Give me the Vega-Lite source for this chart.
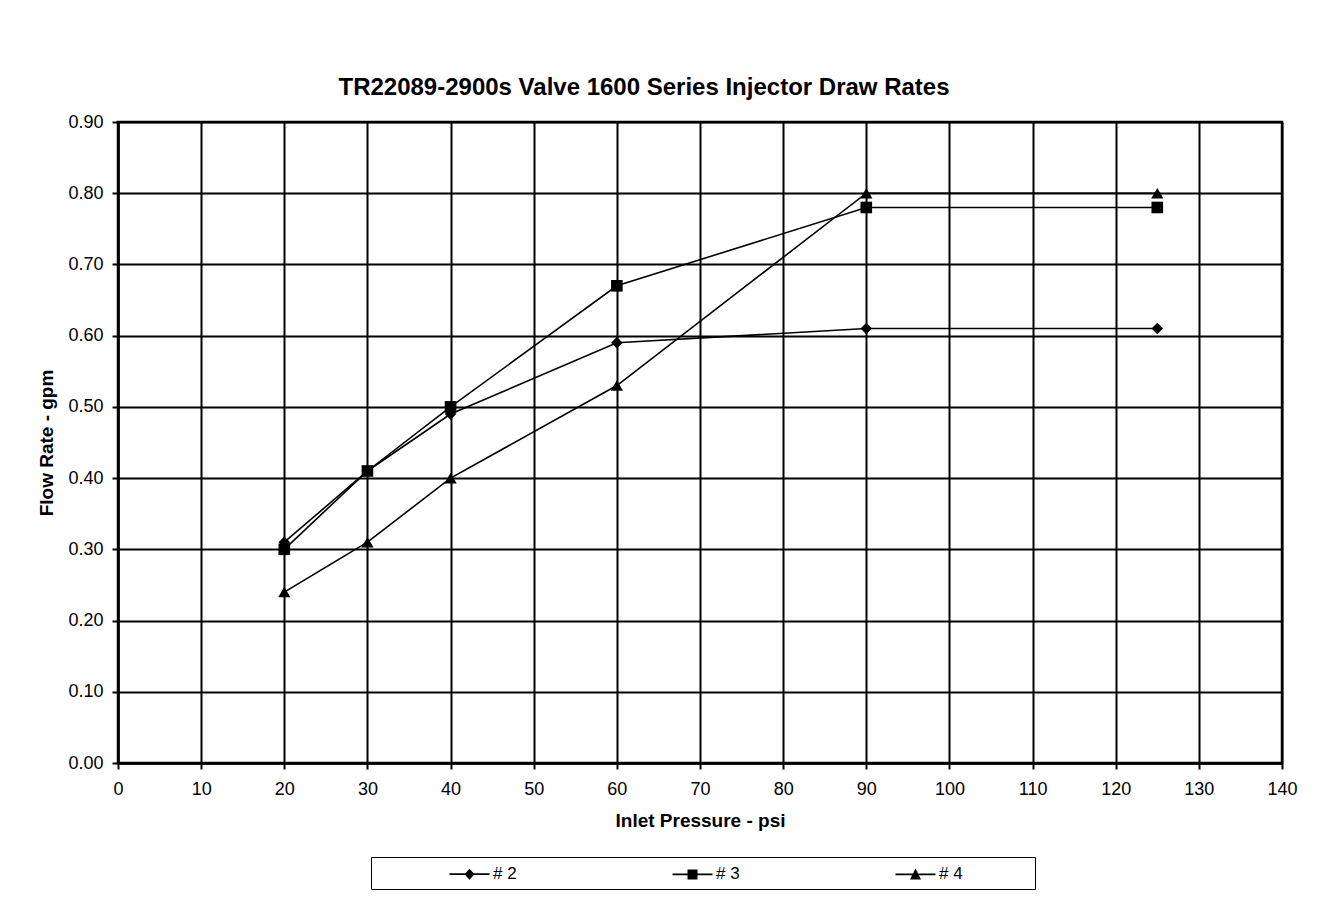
{
  "$schema": "https://vega.github.io/schema/vega-lite/v6.json",
  "width": 1164,
  "height": 641,
  "autosize": "none",
  "padding": {"left": 118, "top": 122, "right": 43, "bottom": 142},
  "background": "white",
  "title": {
    "text": "TR22089-2900s Valve 1600 Series Injector Draw Rates",
    "font": "Liberation Sans",
    "fontSize": 24,
    "fontWeight": "bold",
    "color": "black",
    "anchor": "middle",
    "dx": -56,
    "offset": 13
  },
  "config": {
    "view": {"stroke": "black", "strokeWidth": 2.5},
    "axis": {
      "labelFont": "Liberation Sans",
      "labelFontSize": 18,
      "labelColor": "black",
      "titleFont": "Liberation Sans",
      "titleFontSize": 19,
      "titleFontWeight": "bold",
      "titleColor": "black",
      "domainColor": "black",
      "domainWidth": 2.5,
      "tickColor": "black",
      "tickWidth": 2,
      "tickSize": 6,
      "gridColor": "black",
      "gridWidth": 2,
      "gridOpacity": 1
    }
  },
  "data": {
    "values": [
      {"series": "s2", "pressure": 20, "flow": 0.31},
      {"series": "s2", "pressure": 30, "flow": 0.41},
      {"series": "s2", "pressure": 40, "flow": 0.49},
      {"series": "s2", "pressure": 60, "flow": 0.59},
      {"series": "s2", "pressure": 90, "flow": 0.61},
      {"series": "s2", "pressure": 125, "flow": 0.61},
      {"series": "s3", "pressure": 20, "flow": 0.30},
      {"series": "s3", "pressure": 30, "flow": 0.41},
      {"series": "s3", "pressure": 40, "flow": 0.50},
      {"series": "s3", "pressure": 60, "flow": 0.67},
      {"series": "s3", "pressure": 90, "flow": 0.78},
      {"series": "s3", "pressure": 125, "flow": 0.78},
      {"series": "s4", "pressure": 20, "flow": 0.24},
      {"series": "s4", "pressure": 30, "flow": 0.31},
      {"series": "s4", "pressure": 40, "flow": 0.40},
      {"series": "s4", "pressure": 60, "flow": 0.53},
      {"series": "s4", "pressure": 90, "flow": 0.80},
      {"series": "s4", "pressure": 125, "flow": 0.80}
    ]
  },
  "encoding": {
    "x": {
      "field": "pressure",
      "type": "quantitative",
      "title": "Inlet Pressure - psi",
      "scale": {"domain": [0, 140], "nice": false, "zero": false},
      "axis": {"values": [0,10,20,30,40,50,60,70,80,90,100,110,120,130,140], "labelPadding": 11, "titlePadding": 13, "labelFlush": false}
    },
    "y": {
      "field": "flow",
      "type": "quantitative",
      "title": "Flow Rate - gpm",
      "scale": {"domain": [0, 0.9], "nice": false},
      "axis": {"values": [0,0.1,0.2,0.3,0.4,0.5,0.6,0.7,0.8,0.9], "format": ".2f", "labelPadding": 9, "titlePadding": 11, "labelFlush": false}
    }
  },
  "layer": [
    {
      "mark": {"type": "line", "color": "black", "strokeWidth": 1.6},
      "encoding": {"detail": {"field": "series", "type": "nominal"}}
    },
    {
      "transform": [{"filter": "datum.series == 's2'"}],
      "mark": {"type": "point", "shape": "diamond", "filled": true, "color": "black", "opacity": 1, "size": 135}
    },
    {
      "transform": [{"filter": "datum.series == 's3'"}],
      "mark": {"type": "point", "shape": "square", "filled": true, "color": "black", "opacity": 1, "size": 135}
    },
    {
      "transform": [{"filter": "datum.series == 's4'"}],
      "mark": {"type": "point", "shape": "triangle-up", "filled": true, "color": "black", "opacity": 1, "size": 150}
    },
    {
      "mark": {"type": "point", "filled": true, "color": "black", "opacity": 0},
      "encoding": {
        "shape": {
          "field": "series",
          "type": "nominal",
          "scale": {
            "domain": ["s2", "s3", "s4"],
            "range": [
              "M-2,-0.08L2,-0.08L2,0.08L-2,0.08ZM0,-0.55L0.5,0L0,0.55L-0.5,0Z",
              "M-2,-0.08L2,-0.08L2,0.08L-2,0.08ZM-0.5,-0.5L0.5,-0.5L0.5,0.5L-0.5,0.5Z",
              "M-2,-0.08L2,-0.08L2,0.08L-2,0.08ZM0,-0.6L0.55,0.5L-0.55,0.5Z"
            ]
          },
          "legend": {
            "title": "\u00a0",
            "titleOrient": "right",
            "titlePadding": 66,
            "titleFontSize": 10,
            "orient": "none",
            "legendX": 253,
            "legendY": 735,
            "direction": "horizontal",
            "strokeColor": "black",
            "padding": 6,
            "symbolSize": 400,
            "symbolOpacity": 1,
            "symbolFillColor": "black",
            "symbolStrokeColor": "black",
            "symbolStrokeWidth": 1.6,
            "symbolOffset": 81.5,
            "labelOffset": 12.5,
            "labelFont": "Liberation Sans",
            "labelFontSize": 17,
            "labelColor": "black",
            "labelExpr": "'# ' + slice(datum.label, 1)",
            "columnPadding": 83,
            "labelLimit": 200,
            "encode": {
              "symbols": {
                "fill": {"value": "black"},
                "fillOpacity": {"value": 1},
                "opacity": {"value": 1}
              }
            }
          }
        }
      }
    }
  ]
}
